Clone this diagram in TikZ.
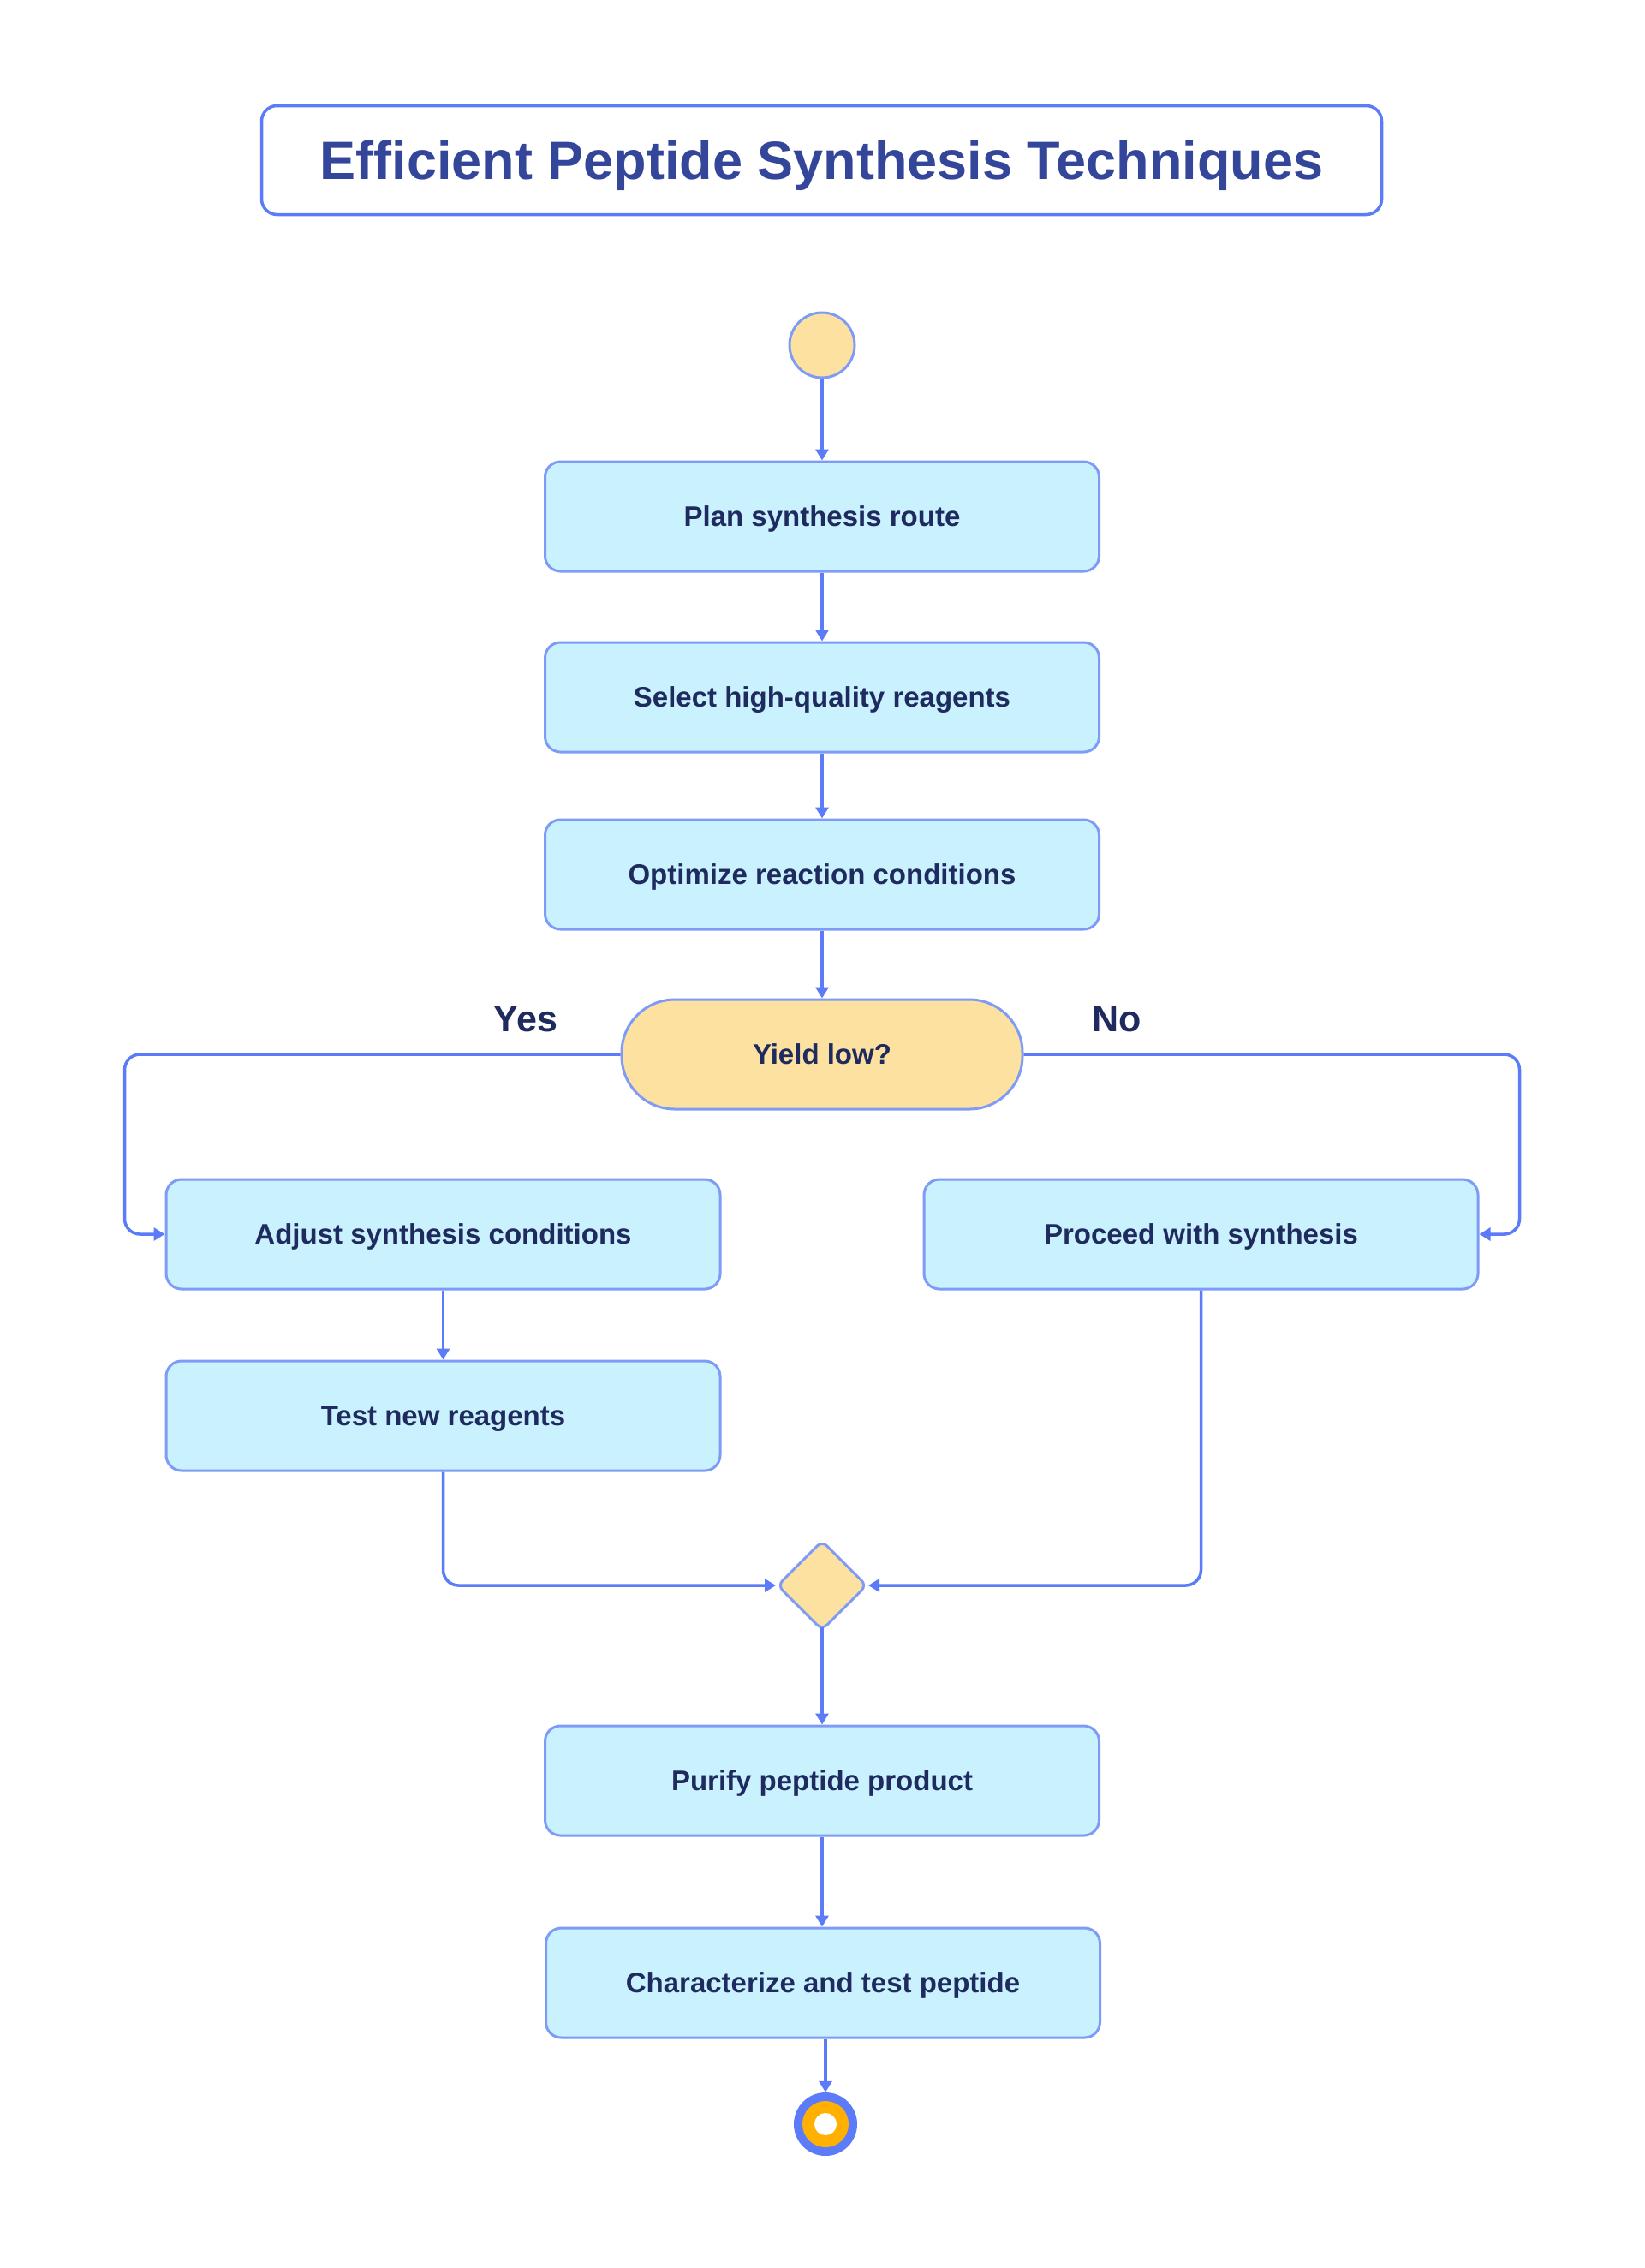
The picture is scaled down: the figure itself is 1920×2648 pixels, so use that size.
\documentclass[tikz,border=0pt]{standalone}
\usepackage{fontspec}
\setmainfont{Liberation Sans}
\usetikzlibrary{arrows.meta,shapes.geometric}
\definecolor{linec}{HTML}{5B7BF9}
\definecolor{boxst}{HTML}{7E9CF7}
\definecolor{boxfill}{HTML}{C9F2FE}
\definecolor{yel}{HTML}{FDE1A0}
\definecolor{txt}{HTML}{1F2A5E}
\definecolor{ttl}{HTML}{34469A}
\definecolor{orng}{HTML}{FFB000}
\begin{document}
\begin{tikzpicture}[x=1pt,y=-1pt,
  proc/.style={draw=boxst, fill=boxfill, line width=3pt, rounded corners=18pt,
    minimum width=647pt, minimum height=128pt, inner sep=0pt, text depth=0pt,
    font=\fontsize{33}{39}\selectfont\bfseries, text=txt},
  decis/.style={draw=boxst, fill=yel, line width=3pt, rounded corners=62pt,
    minimum width=468pt, minimum height=128pt, inner sep=0pt, text depth=0pt,
    font=\fontsize{33}{39}\selectfont\bfseries, text=txt},
  conn/.style={draw=linec, line width=3.5pt, rounded corners=18pt,
    -{Triangle[length=13pt,width=15pt]}},
  lbl/.style={font=\fontsize{43}{50}\selectfont\bfseries, text=txt, inner sep=0pt},
]
\fill[white] (0,0) rectangle (1920,2648);
\useasboundingbox (0,0) rectangle (1920,2648);

\node[draw=linec, line width=3.5pt, rounded corners=18pt, fill=white,
  minimum width=1308pt, minimum height=127pt, inner sep=0pt, text depth=0pt,
  font=\fontsize{63}{72}\selectfont\bfseries, text=ttl] (title) at (959.5,187)
  {Efficient Peptide Synthesis Techniques};

\node[circle, draw=boxst, fill=yel, line width=3pt, minimum size=76pt, inner sep=0pt] (start) at (960,403) {};

\node[proc] (plan) at (960,603) {Plan synthesis route};
\node[proc] (select) at (960,814) {Select high-quality reagents};
\node[proc] (optimize) at (960,1021) {Optimize reaction conditions};
\node[decis] (yield) at (960,1231) {Yield low?};
\node[proc] (adjust) at (517.5,1441) {Adjust synthesis conditions};
\node[proc] (proceed) at (1402.5,1441) {Proceed with synthesis};
\node[proc] (test) at (517.5,1653) {Test new reagents};
\node[diamond, aspect=1, draw=boxst, fill=yel, line width=3pt, rounded corners=8pt,
  minimum width=105pt, minimum height=105pt, inner sep=0pt] (merge) at (960,1851) {};
\node[proc] (purify) at (960,2079) {Purify peptide product};
\node[proc] (charac) at (961,2315) {Characterize and test peptide};

\node[circle, fill=linec, minimum size=74pt, inner sep=0pt] (finish) at (964,2480) {};
\fill[orng] (finish.center) circle (27);
\fill[white] (finish.center) circle (13);

\node[lbl] (yes) at (614,1190) {Yes};
\node[lbl] (no) at (1304,1190) {No};

\draw[conn] (start) -- (plan);
\draw[conn] (plan) -- (select);
\draw[conn] (select) -- (optimize);
\draw[conn] (optimize) -- (yield);
\draw[conn] (yield.west) -- ++(-579,0) |- (adjust.west);
\draw[conn] (yield.east) -- ++(579,0) |- (proceed.east);
\draw[conn] (adjust) -- (test);
\draw[conn] (test.south) |- (merge.west);
\draw[conn] (proceed.south) |- (merge.east);
\draw[conn] ([yshift=5pt]merge.south) -- (purify.north);
\draw[conn] (purify) -- (purify.south |- charac.north);
\draw[conn] (finish.north |- charac.south) -- (finish);
\end{tikzpicture}
\end{document}
